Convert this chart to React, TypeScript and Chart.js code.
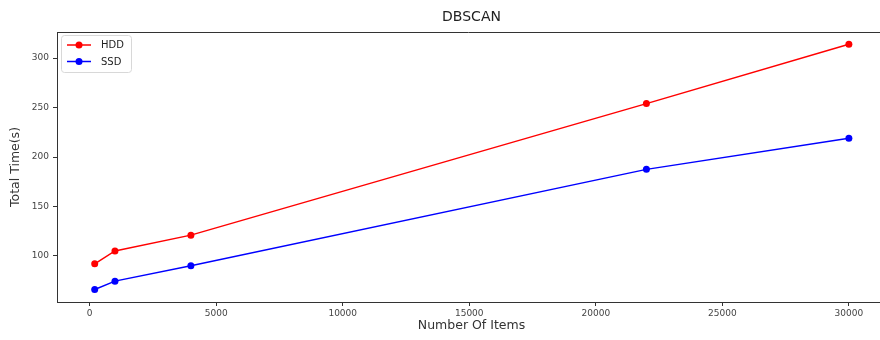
import React, { useEffect, useRef } from "react";
import { Chart, registerables } from "chart.js";

Chart.register(...registerables);

// Benchmark data: DBSCAN run time against number of items
const itemCounts = [200, 1000, 4000, 22000, 30000];
const hddTimes = [92, 105, 121, 254, 314];
const ssdTimes = [66, 74.5, 90, 187.5, 219];
const xTickValues = [0, 5000, 10000, 15000, 20000, 25000, 30000];
const yTickValues = [100, 150, 200, 250, 300];
const seriesNames = ["HDD", "SSD"];
const seriesColors = ["#ff0000", "#0000ff"];

const titleText = "DBSCAN";
const xTitle = "Number Of Items";
const yTitle = "Total Time(s)";
const FONT = "'DejaVu Sans', sans-serif";

const framePlugin = {
  id: "frame",
  afterDraw(chart: any) {
    const { ctx, chartArea } = chart;
    const { left, top, bottom } = chartArea;
    ctx.save();
    // top spine
    ctx.strokeStyle = "#333";
    ctx.lineWidth = 1;
    ctx.beginPath();
    ctx.moveTo(left, top + 0.5);
    ctx.lineTo(880, top + 0.5);
    ctx.stroke();

    // title
    ctx.fillStyle = "#222";
    ctx.textAlign = "center";
    ctx.textBaseline = "middle";
    ctx.font = `14px ${FONT}`;
    ctx.fillText(titleText, (left + 886) / 2, 17);

    // axis titles
    ctx.font = `12.5px ${FONT}`;
    ctx.fillStyle = "#333";
    ctx.fillText(xTitle, (left + 886) / 2, 326);
    ctx.save();
    ctx.translate(16, (top + bottom) / 2);
    ctx.rotate(-Math.PI / 2);
    ctx.fillText(yTitle, 0, 0);
    ctx.restore();

    // legend box
    const bx = left + 4;
    const by = top + 3;
    const bw = 70;
    const bh = 37;
    ctx.strokeStyle = "#d8d8d8";
    ctx.fillStyle = "rgba(255,255,255,0.8)";
    ctx.beginPath();
    (ctx as any).roundRect(bx + 0.5, by + 0.5, bw, bh, 3);
    ctx.fill();
    ctx.stroke();
    ctx.font = `10px ${FONT}`;
    ctx.textAlign = "left";
    chart.data.datasets.forEach((ds: any, i: number) => {
      const cy = by + 10 + i * 16.5;
      ctx.strokeStyle = ds.borderColor;
      ctx.lineWidth = 1.5;
      ctx.beginPath();
      ctx.moveTo(bx + 6, cy);
      ctx.lineTo(bx + 30, cy);
      ctx.stroke();
      ctx.fillStyle = ds.borderColor;
      ctx.beginPath();
      ctx.arc(bx + 18, cy, 3.5, 0, Math.PI * 2);
      ctx.fill();
      ctx.fillStyle = "#222";
      ctx.fillText(ds.label, bx + 40, cy + 0.5);
    });
    ctx.restore();
  },
};

export default function App() {
  const canvasRef = useRef<HTMLCanvasElement | null>(null);

  useEffect(() => {
    if (!canvasRef.current) return;
    const mk = (vals: number[]) => itemCounts.map((x, i) => ({ x, y: vals[i] }));
    const chart = new Chart(canvasRef.current, {
      type: "line",
      data: {
        datasets: [hddTimes, ssdTimes].map((vals, i) => ({
          label: seriesNames[i],
          data: mk(vals),
          borderColor: seriesColors[i],
          backgroundColor: seriesColors[i],
          borderWidth: 1.5,
          pointRadius: 3.5,
          pointBorderWidth: 0,
          tension: 0,
        })),
      },
      options: {
        animation: false,
        responsive: false,
        layout: { autoPadding: false, padding: { top: 32, left: 0, right: 0, bottom: 0 } },
        plugins: {
          legend: { display: false },
          title: { display: false },
          tooltip: { enabled: false },
        },
        scales: {
          x: {
            type: "linear",
            min: -1290,
            max: 31230,
            afterFit: (s: any) => {
              s.height = 38;
              s.paddingLeft = 0;
              s.paddingRight = 0;
            },
            afterBuildTicks: (s: any) => {
              s.ticks = xTickValues.map((v) => ({ value: v }));
            },
            grid: { drawOnChartArea: false, tickLength: 4, color: "#333" },
            border: { display: true, color: "#333", width: 1 },
            ticks: {
              font: { family: FONT, size: 9 },
              color: "#444",
              padding: 2,
              maxRotation: 0,
              callback: (v: any) => String(v),
            },
          },
          y: {
            type: "linear",
            min: 53.4,
            max: 326.4,
            afterFit: (s: any) => {
              s.width = 57;
              s.paddingTop = 0;
              s.paddingBottom = 0;
            },
            afterBuildTicks: (s: any) => {
              s.ticks = yTickValues.map((v) => ({ value: v }));
            },
            grid: { drawOnChartArea: false, tickLength: 4, color: "#333" },
            border: { display: true, color: "#333", width: 1 },
            ticks: {
              font: { family: FONT, size: 9 },
              color: "#444",
              padding: 4,
              callback: (v: any) => String(v),
            },
          },
        },
      },
      plugins: [framePlugin],
    });
    return () => chart.destroy();
  }, []);

  return (
    <div style={{ position: "absolute", left: 0, top: 0, width: 880, height: 340, background: "#fff" }}>
      <canvas ref={canvasRef} width={880} height={340} />
    </div>
  );
}
